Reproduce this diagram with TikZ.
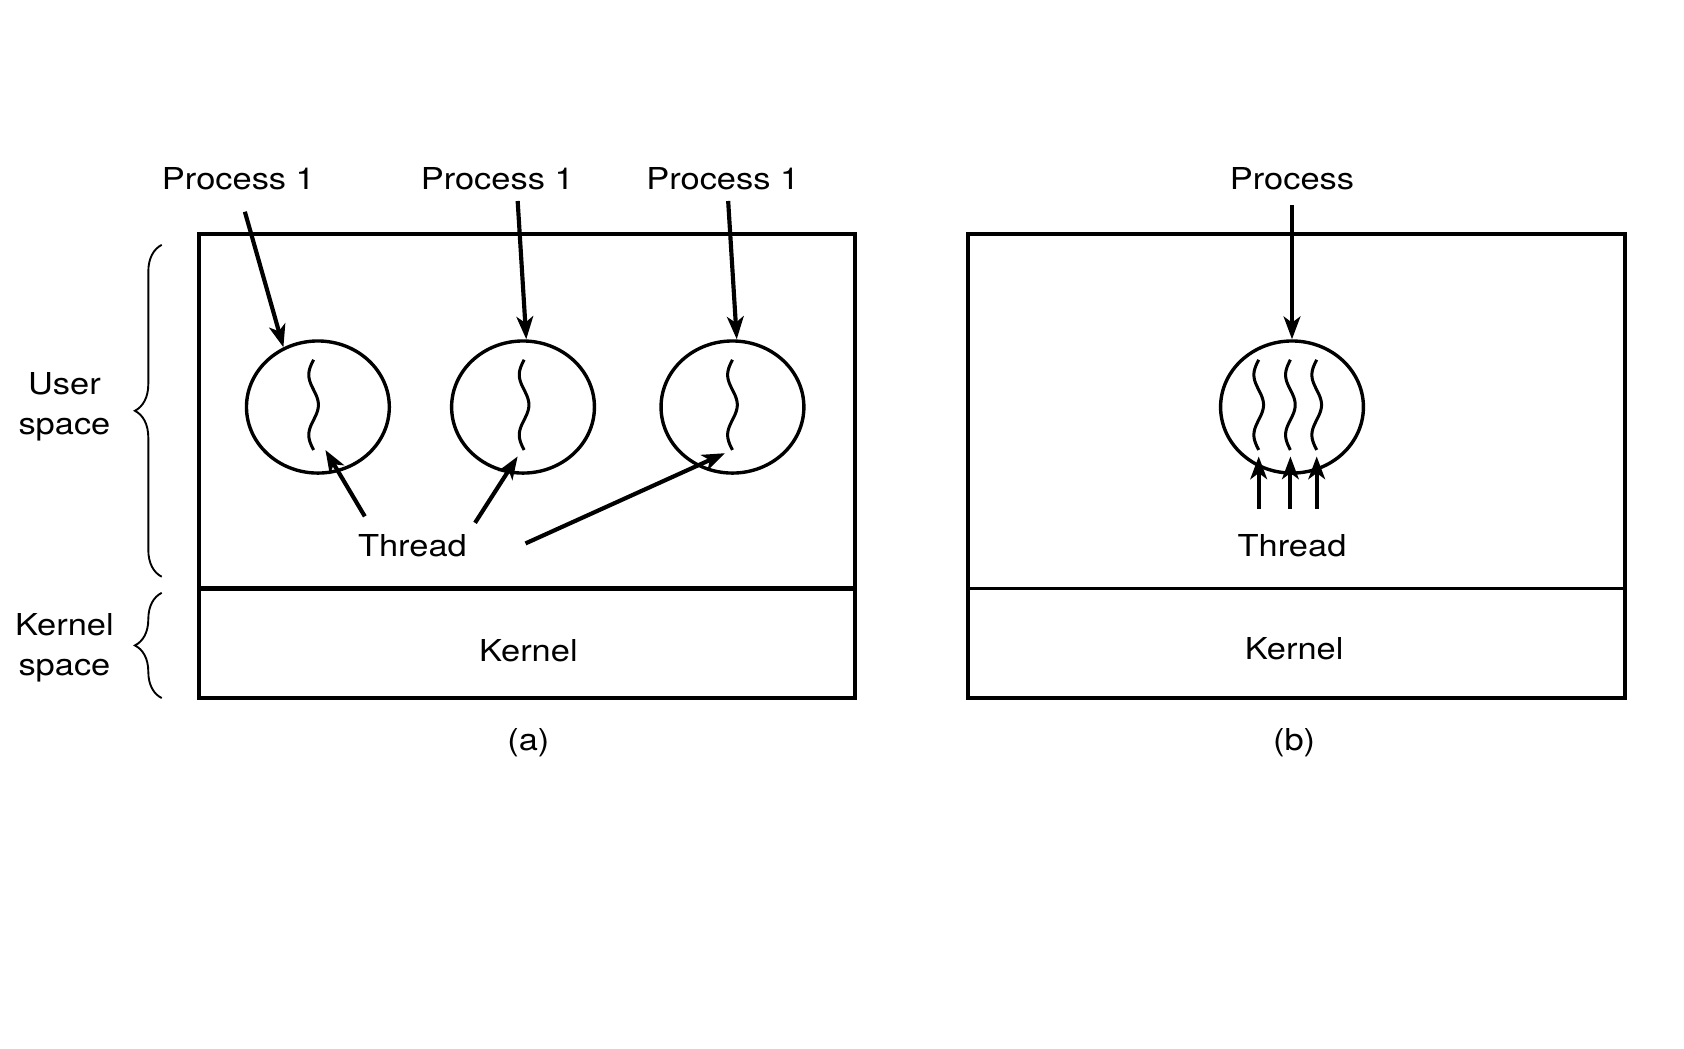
\documentclass[tikz,border=0pt]{standalone}
\usepackage{fontspec}
\setmainfont[FakeStretch=1.14]{TeX Gyre Heros}
\usetikzlibrary{arrows.meta, positioning, decorations.pathreplacing, shapes.geometric, calc}

\begin{document}
\begin{tikzpicture}[
    every node/.style={font=\fontsize{8}{10.5}\selectfont},
    lbl/.style={inner sep=0.1cm},
    box/.style={draw, line width=1pt},
    proc/.style={draw, ellipse, line width=0.9pt, minimum width=1.33cm, minimum height=1.23cm, inner sep=0pt},
    arr/.style={-{Stealth[length=6pt,width=4.4pt,inset=1.6pt]}, line width=1.1pt},
    thr/.style={line width=0.8pt},
    brc/.style={decorate, decoration={brace, amplitude=0.25cm}, line width=0.5pt}
  ]
    \useasboundingbox (0,0) rectangle (15.68,9.76);

    % (a) three processes
    \draw[box] (1.85,3.26) rectangle (7.96,7.58);
    \draw[line width=1.2pt] (1.85,4.28) -- (7.96,4.28);
    % (b) one process
    \draw[box] (9.01,3.26) rectangle (15.13,7.58);
    \draw[box] (9.01,4.28) -- (15.13,4.28);

    \node[proc] (c1) at (2.96,5.97) {};
    \node[proc] (c2) at (4.87,5.97) {};
    \node[proc] (c3) at (6.82,5.97) {};
    \node[proc] (cb) at (12.03,5.97) {};

    % threads
    \foreach \x/\nm in {2.92/th1, 4.88/th2, 6.82/th3, 11.72/tb1, 12.015/tb2, 12.26/tb3} {
      \draw[thr] plot[domain=0:1, samples=40, smooth, variable=\t] ({\x-0.045*sin(540*\t)}, {6.41-0.84*\t});
      \coordinate (\nm) at (\x,5.57);
    }

    \node[lbl] (p1) at (2.22,8.10) {Process 1};
    \node[lbl] (p2) at (4.63,8.10) {Process 1};
    \node[lbl] (p3) at (6.73,8.10) {Process 1};
    \node[lbl] (pb) at (12.03,8.10) {Process};
    \node[lbl] (t1) at (3.84,4.68) {Thread};
    \node[lbl] (tb) at (12.03,4.68) {Thread};
    \node (ka) at (4.92,3.70) {Kernel};
    \node (kb) at (12.05,3.72) {Kernel};
    \node (capa) at (4.92,2.84) {(a)};
    \node (capb) at (12.05,2.84) {(b)};
    \node[align=center] (us) at (0.60,5.97) {User\\space};
    \node[align=center] (ks) at (0.60,3.73) {Kernel\\space};

    \draw[brc] (1.506,4.39) -- (1.506,7.48);
    \draw[brc] (1.506,3.26) -- (1.506,4.24);

    \draw[arr] ([shift={(0.06,-0.1)}]p1.south) -- (c1.120);
    \draw[arr] ([xshift=0.19cm]p2.south) -- ([xshift=0.03cm]c2.north);
    \draw[arr] ([xshift=0.05cm]p3.south) -- ([xshift=0.04cm]c3.north);
    \draw[arr] ([yshift=-0.04cm]pb.south) -- (cb.north);

    \draw[arr] ([shift={(0.17,0.06)}]t1.north west) -- ([xshift=0.11cm]th1);
    \draw[arr] ([xshift=-0.03cm]t1.north east) -- ([shift={(-0.06,-0.06)}]th2);
    \draw[arr] ([shift={(0.44,0.02)}]t1.east) -- ([shift={(-0.07,-0.03)}]th3);
    \foreach \nm in {tb1,tb2,tb3}
      \draw[arr] ($(tb.north -| \nm)+(0,0.13)$) -- ([yshift=-0.06cm]\nm);
\end{tikzpicture}
\end{document}
